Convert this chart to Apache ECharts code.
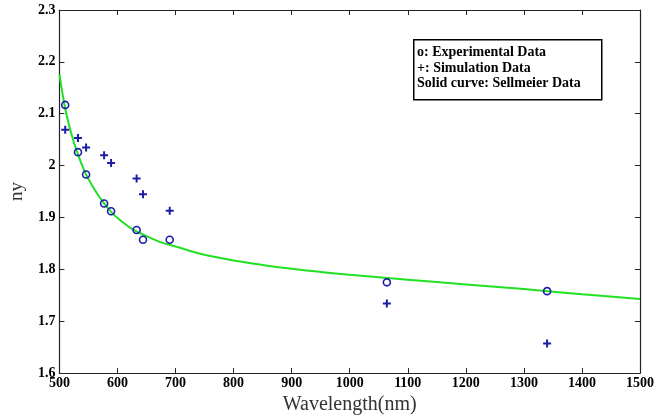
<!DOCTYPE html>
<html>
<head>
<meta charset="utf-8">
<script src="https://cdn.jsdelivr.net/npm/echarts@6/dist/echarts.min.js"></script>
<style>html,body{margin:0;padding:0;background:#fff}#c{width:666px;height:420px}</style>
</head>
<body>
<div id="c"></div>
<script>
// Experimental data (o)
const expWavelength = [510, 532, 546, 577, 589, 633, 644, 690, 1064, 1340];
const expIndex      = [2.117, 2.026, 1.983, 1.927, 1.912, 1.876, 1.857, 1.857, 1.775, 1.758];
// Simulation data (+)
const simWavelength = [510, 532, 546, 577, 589, 633, 644, 690, 1064, 1340];
const simIndex      = [2.069, 2.053, 2.035, 2.020, 2.005, 1.975, 1.945, 1.913, 1.734, 1.657];
// Sellmeier curve
const curveWavelength = [500, 510, 520, 530, 545, 560, 575, 590, 600, 625, 650, 675, 700, 750, 800, 850, 900, 950, 1000, 1100, 1200, 1300, 1400, 1500];
const curveIndex      = [2.176, 2.110, 2.064, 2.028, 1.985, 1.955, 1.930, 1.910, 1.899, 1.878, 1.864, 1.852, 1.844, 1.828, 1.817, 1.8085, 1.801, 1.795, 1.7895, 1.780, 1.771, 1.762, 1.752, 1.743];
const legendLines = ['o: Experimental Data', '+: Simulation Data', 'Solid curve: Sellmeier Data'];

const zip = (a, b) => a.map((v, i) => [v, b[i]]);
const serif = '"Liberation Serif", "DejaVu Serif", serif';
const axisColor = '#222';
const blue = '#1c1caa';

const chart = echarts.init(document.getElementById('c'));
const xBase = {
  type: 'value', min: 500, max: 1500, interval: 100,
  axisLine: { show: true, onZero: false, lineStyle: { color: axisColor, width: 1.2 } },
  axisTick: { show: true, inside: true, length: 5, lineStyle: { color: axisColor } },
  splitLine: { show: false }
};
const yBase = {
  type: 'value', min: 1.6, max: 2.3, interval: 0.1,
  axisLine: { show: true, onZero: false, lineStyle: { color: axisColor, width: 1.2 } },
  axisTick: { show: true, inside: true, length: 5, lineStyle: { color: axisColor } },
  splitLine: { show: false }
};
chart.setOption({
  animation: false,
  backgroundColor: '#fff',
  grid: { left: 52, right: 26, top: 10, bottom: 45 },
  xAxis: [
    Object.assign({}, xBase, {
      position: 'bottom',
      axisLabel: { fontFamily: serif, fontWeight: 'bold', fontSize: 14, color: '#000', margin: 3,
                   formatter: v => String(v) },
      name: 'Wavelength(nm)', nameLocation: 'middle', nameGap: 20,
      nameTextStyle: { fontFamily: serif, fontSize: 20, color: '#333' }
    }),
    Object.assign({}, xBase, { position: 'top', axisLabel: { show: false } })
  ],
  yAxis: [
    Object.assign({}, yBase, {
      position: 'left',
      axisLabel: { fontFamily: serif, fontWeight: 'bold', fontSize: 14, color: '#000', margin: 4 },
      name: 'ny', nameLocation: 'middle', nameGap: 25, nameRotate: 90,
      nameTextStyle: { fontFamily: serif, fontSize: 19, color: '#333' }
    }),
    Object.assign({}, yBase, { position: 'right', axisLabel: { show: false } })
  ],
  series: [
    {
      name: 'Sellmeier', type: 'line', data: zip(curveWavelength, curveIndex),
      smooth: 0.3, showSymbol: false, symbol: 'none',
      lineStyle: { color: '#22e022', width: 2 }, z: 2
    },
    {
      name: 'Experimental', type: 'scatter', data: zip(expWavelength, expIndex),
      symbol: 'circle', symbolSize: 7,
      itemStyle: { color: 'rgba(0,0,0,0)', borderColor: blue, borderWidth: 1.6, opacity: 1 }, z: 3
    },
    {
      name: 'Simulation', type: 'scatter', data: zip(simWavelength, simIndex),
      symbol: 'path://M3,0H5V3H8V5H5V8H3V5H0V3H3Z', symbolSize: 8,
      itemStyle: { color: blue, opacity: 1 }, z: 3
    }
  ],
  graphic: [
    {
      type: 'rect', left: 413, top: 39,
      shape: { width: 188, height: 60 },
      style: { fill: '#fff', stroke: '#000', lineWidth: 1.5 }, z: 10
    },
    {
      type: 'text', left: 417, top: 45, z: 11,
      style: {
        text: legendLines.join('\n'), fill: '#000',
        font: 'bold 14px ' + serif, lineHeight: 15.4
      }
    }
  ]
});
</script>
</body>
</html>
